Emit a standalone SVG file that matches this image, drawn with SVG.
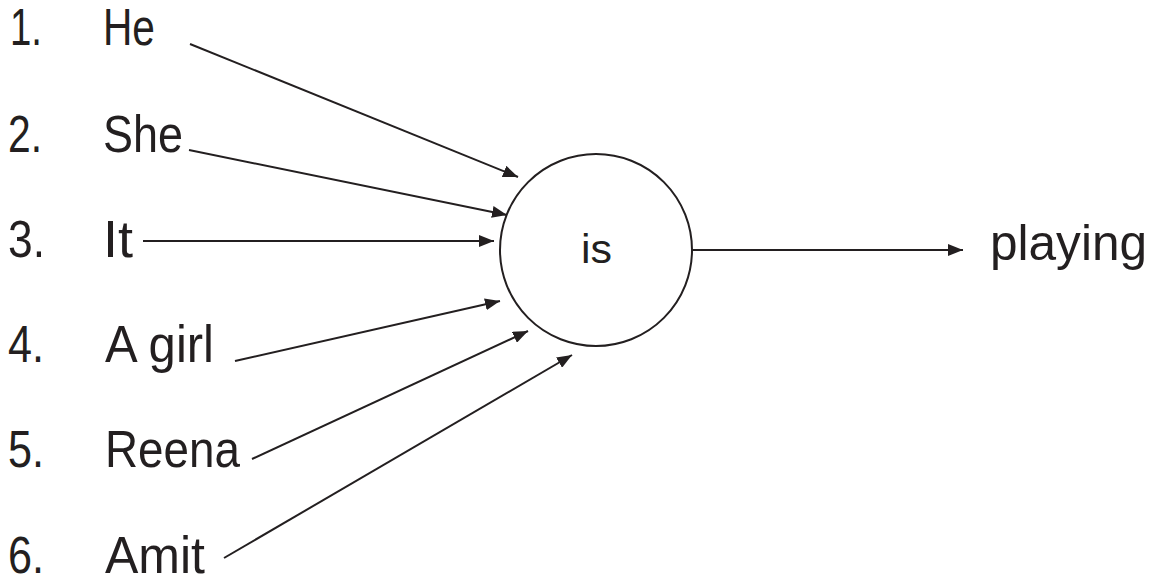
<svg xmlns="http://www.w3.org/2000/svg" width="1155" height="582" viewBox="0 0 1155 582">
<style>
.t{font-family:"Liberation Sans",Arial,sans-serif;font-size:52px;fill:#231f20}
.c{stroke:#231f20;stroke-width:2;fill:none}
</style>
<defs>
<marker id="ah" markerUnits="userSpaceOnUse" markerWidth="16" markerHeight="12" refX="15" refY="6" orient="auto">
<path d="M0,0 L15,6 L0,12 Z" fill="#231f20"/>
</marker>
</defs>
<rect width="1155" height="582" fill="#fff"/>
<g id="connectors">
<line class="c" x1="190" y1="44" x2="518" y2="177" marker-end="url(#ah)"/>
<line class="c" x1="189" y1="150" x2="507" y2="215" marker-end="url(#ah)"/>
<line class="c" x1="143" y1="241" x2="494" y2="241" marker-end="url(#ah)"/>
<line class="c" x1="235" y1="361" x2="500" y2="301" marker-end="url(#ah)"/>
<line class="c" x1="252" y1="459" x2="528" y2="331" marker-end="url(#ah)"/>
<line class="c" x1="224" y1="558" x2="572" y2="355" marker-end="url(#ah)"/>
<line class="c" x1="692" y1="250" x2="963" y2="250" marker-end="url(#ah)"/>
</g>
<g id="n1"><text class="t" x="10" y="45" textLength="32" lengthAdjust="spacingAndGlyphs">1.</text><text class="t" x="103" y="45" textLength="52" lengthAdjust="spacingAndGlyphs">He</text></g>
<g id="n2"><text class="t" x="8" y="152" textLength="34" lengthAdjust="spacingAndGlyphs">2.</text><text class="t" x="103" y="152" textLength="80" lengthAdjust="spacingAndGlyphs">She</text></g>
<g id="n3"><text class="t" x="8" y="257" textLength="37" lengthAdjust="spacingAndGlyphs">3.</text><text class="t" x="103" y="257" textLength="30" lengthAdjust="spacingAndGlyphs">It</text></g>
<g id="n4"><text class="t" x="8" y="362" textLength="36" lengthAdjust="spacingAndGlyphs">4.</text><text class="t" x="105" y="362" textLength="109" lengthAdjust="spacingAndGlyphs">A girl</text></g>
<g id="n5"><text class="t" x="8" y="467" textLength="36" lengthAdjust="spacingAndGlyphs">5.</text><text class="t" x="105" y="467" textLength="135" lengthAdjust="spacingAndGlyphs">Reena</text></g>
<g id="n6"><text class="t" x="8" y="573" textLength="36" lengthAdjust="spacingAndGlyphs">6.</text><text class="t" x="105" y="573" textLength="100" lengthAdjust="spacingAndGlyphs">Amit</text></g>
<g id="is"><circle class="c" cx="596" cy="250" r="96" fill="#fff"/><text class="t" x="581" y="263" textLength="31" lengthAdjust="spacingAndGlyphs" style="font-size:40px">is</text></g>
<g id="playing"><text class="t" x="990" y="260" textLength="157" lengthAdjust="spacingAndGlyphs" style="font-size:50px">playing</text></g>
</svg>
